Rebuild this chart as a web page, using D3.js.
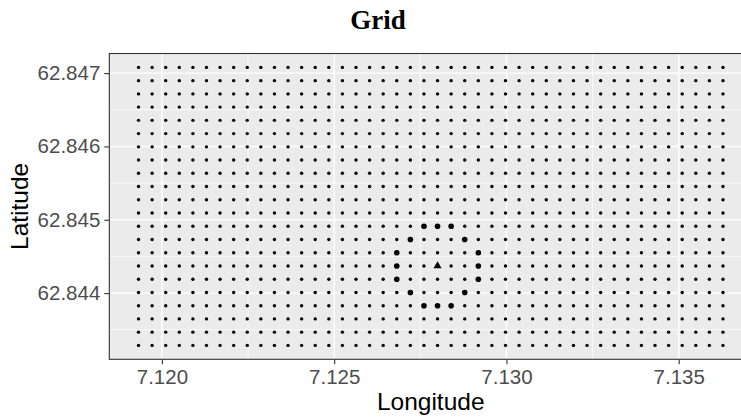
<!DOCTYPE html>
<html>
<head>
<meta charset="utf-8">
<script src="https://cdn.jsdelivr.net/npm/d3@7"></script>
<style>
  body { margin: 0; background: #fff; }
  svg { display: block; }
</style>
</head>
<body>
<svg id="chart" width="741" height="419"></svg>
<script>
// Sampling grid (20 m spacing): longitudes of the columns, latitudes of the rows
const gridLon = [
  7.1193210, 7.1197155, 7.1201100, 7.1205045, 7.1208990, 7.1212935, 7.1216880, 7.1220825,
  7.1224770, 7.1228715, 7.1232660, 7.1236605, 7.1240550, 7.1244495, 7.1248440, 7.1252385,
  7.1256330, 7.1260275, 7.1264220, 7.1268165, 7.1272110, 7.1276055, 7.1280000, 7.1283945,
  7.1287890, 7.1291835, 7.1295780, 7.1299725, 7.1303670, 7.1307615, 7.1311560, 7.1315505,
  7.1319450, 7.1323395, 7.1327340, 7.1331285, 7.1335230, 7.1339175, 7.1343120, 7.1347065,
  7.1351010, 7.1354955, 7.1358900, 7.1362845
];
const gridLat = [
  62.8432870, 62.8434675, 62.8436480, 62.8438285, 62.8440090, 62.8441895, 62.8443700,
  62.8445505, 62.8447310, 62.8449115, 62.8450920, 62.8452725, 62.8454530, 62.8456335,
  62.8458140, 62.8459945, 62.8461750, 62.8463555, 62.8465360, 62.8467165, 62.8468970,
  62.8470775
];

// Ring of selected grid cells around the centre
const ringLon = [
  7.1276055, 7.1280000, 7.1283945,
  7.1272110, 7.1287890,
  7.1268165, 7.1291835,
  7.1268165, 7.1291835,
  7.1268165, 7.1291835,
  7.1272110, 7.1287890,
  7.1276055, 7.1280000, 7.1283945
];
const ringLat = [
  62.8449115, 62.8449115, 62.8449115,
  62.8447310, 62.8447310,
  62.8445505, 62.8445505,
  62.8443700, 62.8443700,
  62.8441895, 62.8441895,
  62.8440090, 62.8440090,
  62.8438285, 62.8438285, 62.8438285
];

// Centre location
const centerLon = [7.1280000];
const centerLat = [62.8443700];

// Axis ticks
const xTicks = [7.120, 7.125, 7.130, 7.135];
const yTicks = [62.844, 62.845, 62.846, 62.847];
const xMinor = [7.1225, 7.1275, 7.1325];
const yMinor = [62.8435, 62.8445, 62.8455, 62.8465];

const svg = d3.select("#chart");
const panel = { left: 109.3, top: 53.5, right: 752.2, bottom: 359.3 };

// Continuous scales with a 5% padding on each side of the data extent
function padded(values) {
  const [lo, hi] = d3.extent(values);
  const pad = (hi - lo) * 0.05;
  return [lo - pad, hi + pad];
}
const x = d3.scaleLinear().domain(padded(gridLon)).range([panel.left, panel.right]);
const y = d3.scaleLinear().domain(padded(gridLat)).range([panel.bottom, panel.top]);

const W = panel.right - panel.left, H = panel.bottom - panel.top;

// Panel background
svg.append("rect")
  .attr("x", panel.left).attr("y", panel.top)
  .attr("width", W).attr("height", H)
  .attr("fill", "#EBEBEB");

// Minor grid lines
const grid = svg.append("g");
grid.selectAll("line.vminor").data(xMinor).join("line")
  .attr("x1", d => x(d)).attr("x2", d => x(d))
  .attr("y1", panel.top).attr("y2", panel.bottom)
  .attr("stroke", "#fff").attr("stroke-width", 0.7);
grid.selectAll("line.hminor").data(yMinor).join("line")
  .attr("y1", d => y(d)).attr("y2", d => y(d))
  .attr("x1", panel.left).attr("x2", panel.right)
  .attr("stroke", "#fff").attr("stroke-width", 0.7);

// Major grid lines
grid.selectAll("line.vmajor").data(xTicks).join("line")
  .attr("x1", d => x(d)).attr("x2", d => x(d))
  .attr("y1", panel.top).attr("y2", panel.bottom)
  .attr("stroke", "#fff").attr("stroke-width", 1.4);
grid.selectAll("line.hmajor").data(yTicks).join("line")
  .attr("y1", d => y(d)).attr("y2", d => y(d))
  .attr("x1", panel.left).attr("x2", panel.right)
  .attr("stroke", "#fff").attr("stroke-width", 1.4);

// All grid points
const gridPoints = gridLon.flatMap(lon => gridLat.map(lat => ({ lon, lat })));
svg.append("g").selectAll("circle").data(gridPoints).join("circle")
  .attr("cx", d => x(d.lon)).attr("cy", d => y(d.lat))
  .attr("r", 1.7).attr("fill", "#000");

// Ring points
const ringPoints = ringLon.map((lon, i) => ({ lon, lat: ringLat[i] }));
svg.append("g").selectAll("circle").data(ringPoints).join("circle")
  .attr("cx", d => x(d.lon)).attr("cy", d => y(d.lat))
  .attr("r", 2.8).attr("fill", "#000");

// Centre marker
const centerPoints = centerLon.map((lon, i) => ({ lon, lat: centerLat[i] }));
svg.append("g").selectAll("path").data(centerPoints).join("path")
  .attr("transform", d => `translate(${x(d.lon)},${y(d.lat)})`)
  .attr("d", d3.symbol(d3.symbolTriangle, 28))
  .attr("fill", "#000");

// Panel border
svg.append("rect")
  .attr("x", panel.left).attr("y", panel.top)
  .attr("width", W).attr("height", H)
  .attr("fill", "none").attr("stroke", "#333").attr("stroke-width", 1.1);

// Axes
const font = "'Liberation Sans', Arial, Helvetica, sans-serif";
const xAxis = svg.append("g")
  .attr("transform", `translate(0,${panel.bottom})`)
  .call(d3.axisBottom(x).tickValues(xTicks).tickFormat(d3.format(".3f")).tickSize(5).tickPadding(4));
const yAxis = svg.append("g")
  .attr("transform", `translate(${panel.left},0)`)
  .call(d3.axisLeft(y).tickValues(yTicks).tickFormat(d3.format(".3f")).tickSize(5).tickPadding(4));
[xAxis, yAxis].forEach(a => {
  a.select(".domain").remove();
  a.selectAll(".tick line").attr("stroke", "#333").attr("stroke-width", 1.1);
  a.selectAll(".tick text")
    .attr("fill", "#4D4D4D")
    .style("font-family", font)
    .style("font-size", "20.5px");
});
xAxis.selectAll(".tick text").attr("dy", "0.78em");

// Axis titles
svg.append("text")
  .attr("x", (panel.left + 752.2) / 2).attr("y", 410)
  .attr("text-anchor", "middle")
  .style("font-family", font).style("font-size", "24.5px")
  .attr("fill", "#000")
  .text("Longitude");
svg.append("text")
  .attr("transform", `translate(28,${(panel.top + panel.bottom) / 2}) rotate(-90)`)
  .attr("text-anchor", "middle")
  .style("font-family", font).style("font-size", "24.5px")
  .attr("fill", "#000")
  .text("Latitude");

// Title
svg.append("text")
  .attr("x", 378).attr("y", 29)
  .attr("text-anchor", "middle")
  .style("font-family", "'Liberation Serif', 'Times New Roman', serif")
  .style("font-size", "27px").style("font-weight", "bold")
  .attr("fill", "#000")
  .text("Grid");
</script>
</body>
</html>
